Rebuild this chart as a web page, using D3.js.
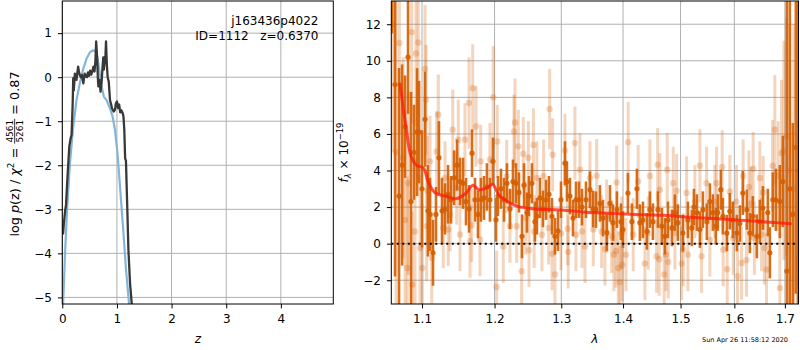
<!DOCTYPE html>
<html>
<head>
<meta charset="utf-8">
<script src="https://cdn.jsdelivr.net/npm/d3@7"></script>
<style>
  html, body { margin: 0; padding: 0; background: #fff; }
  svg text { font-family: "DejaVu Sans", sans-serif; white-space: pre; }
</style>
</head>
<body>
<svg id="chart" width="800" height="350"></svg>
<script>
// ---------------- DATA ----------------
// Left panel: log p(z) (dark) and prior (blue)
const pzZ = [0, 0.015, 0.03, 0.05, 0.068, 0.092, 0.11, 0.128, 0.15, 0.17, 0.18, 0.19, 0.2, 0.21, 0.23, 0.245, 0.26, 0.275, 0.29, 0.305, 0.32, 0.34, 0.36, 0.385, 0.41, 0.43, 0.45, 0.47, 0.49, 0.51, 0.53, 0.55, 0.57, 0.59, 0.605, 0.62, 0.63, 0.64, 0.65, 0.66, 0.68, 0.7, 0.72, 0.735, 0.75, 0.76, 0.775, 0.79, 0.8, 0.815, 0.83, 0.85, 0.873, 0.89, 0.91, 0.94, 0.965, 0.98, 1.0, 1.02, 1.04, 1.06, 1.08, 1.106, 1.12, 1.135, 1.15, 1.165, 1.19, 1.21, 1.24, 1.27, 1.29];
const pzLog = [-3.35, -3.55, -3.3, -3.05, -2.9, -2.33, -1.95, -1.58, -1.4, -1.31, -0.95, -0.6, -0.02, -0.3, 0.08, -0.05, -0.06, 0.1, 0.24, 0.12, 0.05, 0.0, 0.05, -0.14, 0.08, 0.02, 0.0, 0.11, 0.03, 0.15, 0.06, 0.13, 0.24, 0.13, 0.35, 0.81, 0.6, 0.39, 0.0, -0.21, -0.06, -0.33, -0.1, 0.2, 0.45, 0.17, 0.35, 0.5, 0.81, 0.3, 0.0, -0.1, -0.52, -0.6, -0.71, -0.78, -0.74, -0.6, -0.55, -0.7, -0.62, -0.8, -0.75, -0.82, -0.9, -1.2, -1.84, -1.9, -3.0, -3.92, -4.68, -5.13, -5.5];
const priorZ = [0.0, 0.02, 0.05, 0.09, 0.14, 0.2, 0.26, 0.32, 0.385, 0.447, 0.51, 0.57, 0.62, 0.66, 0.69, 0.72, 0.76, 0.81, 0.87, 0.92, 0.965, 1.01, 1.057, 1.12, 1.167, 1.216, 1.24];
const priorLog = [-5.5, -4.99, -4.0, -2.94, -1.96, -1.12, -0.52, -0.14, 0.2, 0.43, 0.57, 0.61, 0.57, 0.32, 0.05, -0.21, -0.44, -0.52, -0.7, -0.89, -1.2, -1.73, -2.49, -3.55, -4.38, -5.06, -5.5];

// Right panel: spectrum (dark and light points with errors) and model
const darkWave = [1.0612, 1.0650, 1.0701, 1.0740, 1.0778, 1.0817, 1.0856, 1.0895, 1.0935, 1.0961, 1.1000, 1.1040, 1.1079, 1.1106, 1.1146, 1.1186, 1.1226, 1.1267, 1.1308, 1.1349, 1.1390, 1.1431, 1.1472, 1.1513, 1.1555, 1.1596, 1.1638, 1.1680, 1.1722, 1.1764, 1.1806, 1.1849, 1.1891, 1.1934, 1.1977, 1.2021, 1.2049, 1.2093, 1.2137, 1.2180, 1.2224, 1.2268, 1.2312, 1.2357, 1.2402, 1.2432, 1.2476, 1.2506, 1.2551, 1.2596, 1.2626, 1.2672, 1.2718, 1.2764, 1.2810, 1.2856, 1.2902, 1.2949, 1.2996, 1.3058, 1.3089, 1.3136, 1.3184, 1.3231, 1.3279, 1.3327, 1.3391, 1.3455, 1.3504, 1.3552, 1.3617, 1.3667, 1.3732, 1.3782, 1.3832, 1.3898, 1.3965, 1.3998, 1.4082, 1.4150, 1.4235, 1.4286, 1.4338, 1.4407, 1.4459, 1.4511, 1.4598, 1.4668, 1.4721, 1.4775, 1.4846, 1.4899, 1.4952, 1.5042, 1.5133, 1.5205, 1.5242, 1.5297, 1.5352, 1.5407, 1.5481, 1.5537, 1.5593, 1.5649, 1.5686, 1.5743, 1.5781, 1.5857, 1.5914, 1.5971, 1.6048, 1.6106, 1.6164, 1.6242, 1.6300, 1.6359, 1.6438, 1.6497, 1.6557, 1.6656, 1.6696, 1.6756, 1.6816, 1.6897, 1.6958, 1.7040, 1.7101, 1.7163, 1.7225, 1.7266];
const darkFlux = [17, 8.7, 2.6, 4.3, 6.4, 10.2, 2.3, 5.0, 6.1, 6.1, 3.0, 6.8, 1.8, 1.6, -0.5, 1.6, 4.7, 1.8, 1.9, 2.7, 2.4, 3.6, 4.3, 3.4, 3.3, 2.3, 1.9, 4.95, 2.4, 1.6, 2.4, 2.5, 3.1, 2.4, 4.5, 1.3, 2.6, 3.0, 2.4, 3.3, 1.9, 3.4, 3.3, 2.8, 0.4, 3.2, 1.7, 2.6, 3.3, 1.2, 1.5, 2.5, 1.9, 2.4, 2.7, 1.5, 0.4, 0.7, 2.4, 4.4, 3.4, 2.6, 1.4, 2.4, 2.4, 2.0, 2.4, 2.95, 1.9, 1.86, 2.2, 1.4, 0.6, 2.2, 1.15, 1.86, 1.2, 0.77, 2.77, 1.2, 3.0, 1.15, 1.3, 0.67, 1.86, 1.2, 1.86, 0.95, 0.4, 1.3, 0.86, 1.7, 1.15, 0.58, 1.3, 0.86, 2.0, 1.7, 0.77, 1.86, 1.2, 2.3, 1.7, 0.95, 1.7, 2.95, 1.5, 0.58, 1.77, 1.3, 0.58, 1.1, 2.77, 1.86, 0.58, 1.5, 0.4, 1.2, 1.95, 1.7, -0.5, 2.4, 2.4, 2.3, 3.4, -1.5, 3.0, 1.6, 5.26, 4.0];
const darkErr = [5.5, 10.5, 7, 5.5, 2.8, 3.1, 6, 2.6, 3.5, 2.8, 3.2, 2.6, 2.5, 2.0, 1.8, 1.5, 2.0, 1.8, 1.4, 1.6, 1.3, 1.5, 1.4, 1.3, 1.4, 1.3, 1.3, 1.3, 1.2, 1.3, 1.2, 1.2, 1.3, 1.2, 1.3, 1.2, 1.1, 1.1, 1.2, 1.1, 1.1, 1.2, 1.1, 1.1, 1.2, 1.2, 1.1, 1.1, 1.1, 1.1, 1.0, 1.1, 1.0, 1.1, 1.0, 1.0, 1.0, 1.1, 1.0, 1.2, 1.1, 1.0, 1.0, 1.0, 1.0, 1.0, 1.0, 1.0, 1.0, 1.0, 1.0, 1.0, 1.0, 1.0, 1.0, 1.0, 1.0, 1.0, 1.1, 1.0, 1.1, 1.0, 1.0, 1.0, 1.0, 1.0, 1.0, 1.0, 1.0, 1.0, 1.0, 1.0, 1.0, 1.0, 1.0, 1.0, 1.0, 1.0, 1.0, 1.0, 1.0, 1.0, 1.0, 1.0, 1.0, 1.1, 1.0, 1.0, 1.0, 1.0, 1.0, 1.0, 1.2, 1.1, 1.1, 1.1, 1.2, 1.2, 1.2, 1.3, 1.4, 1.5, 1.7, 2.0, 2.5, 16, 12, 5, 8, 14];

const lightWave = [1.0624, 1.0663, 1.0705, 1.0753, 1.0778, 1.0808, 1.0821, 1.0865, 1.0873, 1.0908, 1.0921, 1.0951, 1.0974, 1.1004, 1.1040, 1.1053, 1.1062, 1.1072, 1.1106, 1.1129, 1.1195, 1.1217, 1.1284, 1.1308, 1.1352, 1.1376, 1.1413, 1.1467, 1.1489, 1.1513, 1.1582, 1.1638, 1.1652, 1.1676, 1.1690, 1.1736, 1.1792, 1.1802, 1.1934, 1.1982, 1.2030, 1.2039, 1.2126, 1.2176, 1.2224, 1.2283, 1.2298, 1.2323, 1.2347, 1.2397, 1.2421, 1.2457, 1.2497, 1.2507, 1.2573, 1.2584, 1.2625, 1.2702, 1.2727, 1.2804, 1.2820, 1.2857, 1.2866, 1.2902, 1.2996, 1.3058, 1.3100, 1.3109, 1.3215, 1.3231, 1.3295, 1.3327, 1.3375, 1.3455, 1.3509, 1.3564, 1.3645, 1.3699, 1.3727, 1.3810, 1.3848, 1.3882, 1.3893, 1.3920, 1.3948, 1.3976, 1.3986, 1.4049, 1.4087, 1.4172, 1.4257, 1.4372, 1.4430, 1.4459, 1.4575, 1.4593, 1.4621, 1.4633, 1.4708, 1.4739, 1.4762, 1.4780, 1.4869, 1.4899, 1.4929, 1.5019, 1.5048, 1.5109, 1.5133, 1.5260, 1.5352, 1.5383, 1.5476, 1.5537, 1.5630, 1.5662, 1.5768, 1.5787, 1.5863, 1.5914, 1.5977, 1.6042, 1.6061, 1.6139, 1.6170, 1.6236, 1.6281, 1.6320, 1.6365, 1.6389, 1.6497, 1.6531, 1.6563, 1.6587, 1.6630, 1.6750, 1.6797, 1.6864, 1.6897, 1.6932, 1.6979, 1.7034, 1.7101, 1.7184];
const lightFlux = [12, 5, 10.97, 4.7, 1.3, -1.33, 3.3, 11.57, -2.24, 0.67, 10.4, 11.0, -0.24, -1.33, 9.55, 7.87, 0.95, 2.9, 4.5, -0.78, 5.04, 7.05, 0.86, 3.59, 0.77, 1.58, 6.23, 3.04, 5.68, 0.5, 5.68, 7.69, 0.13, 1.0, 8.5, 6.41, 0.22, 4.5, 4.6, 8.0, -2.37, 5.59, -0.15, 3.68, 0.95, 6.14, 6.63, 0.95, 5.32, -1.51, 4.92, 1.4, 4.7, -0.36, 5.4, 0.67, 3.6, 0.49, 3.7, 0.86, 7.36, -0.55, 4.86, -1.69, 0.55, 5.1, 0.82, -0.45, 5.5, 0.49, 4.04, 0.67, -0.15, 3.6, 0.77, 3.72, 0.67, -0.29, 1.5, 0.4, -0.6, -0.4, 3.35, -1.33, -2.11, 0.58, -1.15, -0.6, 5.55, 0.49, 3.4, -1.09, 0.58, 3.7, -0.69, 4.32, -0.85, 2.95, -1.69, -0.6, 4.04, -1.0, 3.3, 0.58, 2.9, -1.09, -0.33, 2.77, -0.6, 2.3, 4.26, -0.69, 3.3, 0.2, 2.3, 3.3, 4.2, -0.33, -1.4, 2.85, 0.3, 2.3, -1.78, -1.06, 3.7, -0.9, 3.1, 2.2, 4.1, 0.3, 3.59, 0.5, 2.8, -0.24, -1.42, 4.26, 6.23, 3.7, -2.42, 4.95, 5.1, 5.86, 4.0, 3.0];
const lightErr = [7, 9, 5, 5.5, 6, 5, 5, 5, 4, 4, 4, 4, 4, 3.5, 3.5, 3, 3, 3, 2.5, 2.5, 2.2, 2.2, 2.2, 2, 2, 2, 2.2, 2, 2.2, 2, 2, 2.5, 2, 2, 2.4, 2.2, 2, 2, 2, 2.8, 2, 2, 2, 2, 2, 2, 2.4, 2, 2, 2, 2, 2, 2, 2, 2, 2, 2, 2, 2, 2, 2.2, 2, 2, 2, 2, 2, 2, 2, 2, 2, 2, 2, 2, 2, 2, 2, 2, 2, 2, 2, 2, 2, 2, 2, 2, 2, 2, 2, 2.2, 2, 2, 2, 2, 2, 2, 2, 2, 2, 2, 2, 2, 2, 2, 2, 2, 2, 2, 2, 2, 2, 2, 2, 2, 2, 2, 2, 2, 2, 2, 2, 2, 2, 2, 2, 2, 2, 2, 2, 2, 2, 2, 2, 2, 2, 2, 2.5, 3, 3, 3, 4, 6, 6.5, 8, 9];

const modelWave = [1.0714, 1.079, 1.0857, 1.093, 1.102, 1.108, 1.117, 1.133, 1.146, 1.160, 1.169, 1.178, 1.191, 1.197, 1.206, 1.215, 1.234, 1.26, 1.30, 1.34, 1.38, 1.42, 1.47, 1.51, 1.56, 1.60, 1.645, 1.68, 1.7115];
const modelFlux = [8.73, 6.4, 4.77, 4.28, 4.13, 3.40, 2.80, 2.58, 2.46, 2.77, 3.19, 2.95, 3.1, 3.25, 2.68, 2.40, 2.04, 1.90, 1.84, 1.72, 1.66, 1.6, 1.55, 1.46, 1.38, 1.3, 1.22, 1.15, 1.09];

const leftXTicks = [0, 1, 2, 3, 4];
const leftYTicks = [-5, -4, -3, -2, -1, 0, 1];
const rightXTicks = [1.1, 1.2, 1.3, 1.4, 1.5, 1.6, 1.7];
const rightYTicks = [-2, 0, 2, 4, 6, 8, 10, 12];

const titleLines = ["j163436p4022", "ID=1112   z=0.6370"];
const timestamp = "Sun Apr 26 11:58:12 2020";

// ---------------- DRAW ----------------
const svg = d3.select("#chart");
const FS = 12;
const gridColor = "#b0b0b0";
const orange = "#d55e00";
const fmt = d => String(d).replace("-", "\u2212");

const L = {x0: 62.3, x1: 333.3, y0: 1, y1: 304};
const R = {x0: 391.3, x1: 798.5, y0: 1, y1: 304};

const lx = d3.scaleLinear().domain([0, 4.96]).range([L.x0, L.x1]);
const ly = d3.scaleLinear().domain([-5.15, 1.73]).range([L.y1, L.y0]);
const rx = d3.scaleLog().domain([1.0602, 1.728]).range([R.x0, R.x1]);
const ry = d3.scaleLinear().domain([-3.3, 13.27]).range([R.y1, R.y0]);

const defs = svg.append("defs");
defs.append("clipPath").attr("id", "clipL").append("rect")
  .attr("x", L.x0).attr("y", L.y0).attr("width", L.x1 - L.x0).attr("height", L.y1 - L.y0);
defs.append("clipPath").attr("id", "clipR").append("rect")
  .attr("x", R.x0).attr("y", R.y0).attr("width", R.x1 - R.x0).attr("height", R.y1 - R.y0);

function grid(P, xs, ys, xt, yt) {
  const g = svg.append("g");
  g.selectAll(".gx").data(xt).join("line")
    .attr("x1", d => xs(d)).attr("x2", d => xs(d)).attr("y1", P.y0).attr("y2", P.y1)
    .attr("stroke", gridColor).attr("stroke-width", 1);
  g.selectAll(".gy").data(yt).join("line")
    .attr("y1", d => ys(d)).attr("y2", d => ys(d)).attr("x1", P.x0).attr("x2", P.x1)
    .attr("stroke", gridColor).attr("stroke-width", 1);
}
function axes(P, xs, ys, xt, yt, xfmt) {
  const ax = svg.append("g").attr("transform", `translate(0,${P.y1})`)
    .call(d3.axisBottom(xs).tickValues(xt).tickFormat(xfmt).tickSize(4.4).tickPadding(6.2));
  const ay = svg.append("g").attr("transform", `translate(${P.x0},0)`)
    .call(d3.axisLeft(ys).tickValues(yt).tickFormat(fmt).tickSize(4.4).tickPadding(6));
  [ax, ay].forEach(a => {
    a.select(".domain").remove();
    a.selectAll("text").attr("font-size", FS).attr("font-family", "DejaVu Sans").attr("fill", "#000");
    a.selectAll("line").attr("stroke", "#000").attr("stroke-width", 1);
  });
  svg.append("rect").attr("x", P.x0).attr("y", P.y0).attr("width", P.x1 - P.x0).attr("height", P.y1 - P.y0)
    .attr("fill", "none").attr("stroke", "#000").attr("stroke-width", 1);
}

// ---- Left panel ----
grid(L, lx, ly, leftXTicks, leftYTicks);
const gl = svg.append("g").attr("clip-path", "url(#clipL)");
const lineL = d3.line().x(d => lx(d[0])).y(d => ly(d[1]));
gl.append("path").datum(d3.zip(priorZ, priorLog)).attr("d", lineL)
  .attr("fill", "none").attr("stroke", "#84b4d8").attr("stroke-width", 2.2).attr("stroke-linejoin", "round");
gl.append("path").datum(d3.zip(pzZ, pzLog)).attr("d", lineL)
  .attr("fill", "none").attr("stroke", "#383838").attr("stroke-width", 2.3).attr("stroke-linejoin", "round");
axes(L, lx, ly, leftXTicks, leftYTicks, fmt);

svg.selectAll(".ttl").data(titleLines).join("text")
  .attr("x", 318.5).attr("y", (d, i) => 25 + i * 14.5).attr("text-anchor", "end")
  .attr("font-size", FS).attr("fill", "#000").text(d => d);

// ---- Right panel ----
grid(R, rx, ry, rightXTicks, rightYTicks);
const gr = svg.append("g").attr("clip-path", "url(#clipR)");
function errSeries(ws, fs, es, opts) {
  const data = d3.zip(ws, fs, es);
  const g = gr.append("g");
  g.selectAll("line").data(data).join("line")
    .attr("x1", d => rx(d[0])).attr("x2", d => rx(d[0]))
    .attr("y1", d => ry(d[1] - d[2])).attr("y2", d => ry(d[1] + d[2]))
    .attr("stroke", orange).attr("stroke-width", opts.bw).attr("opacity", opts.op);
  g.selectAll("circle").data(data).join("circle")
    .attr("cx", d => rx(d[0])).attr("cy", d => ry(d[1])).attr("r", opts.r)
    .attr("fill", orange).attr("opacity", opts.op);
}
errSeries(lightWave, lightFlux, lightErr, {bw: 3, r: 3.2, op: 0.26});
errSeries(darkWave, darkFlux, darkErr, {bw: 2.6, r: 2.6, op: 0.9});

gr.append("path").datum(d3.zip(modelWave, modelFlux))
  .attr("d", d3.line().x(d => rx(d[0])).y(d => ry(d[1])).curve(d3.curveCatmullRom))
  .attr("fill", "none").attr("stroke", "#ff1a0a").attr("stroke-width", 3).attr("opacity", 0.75)
  .attr("stroke-linejoin", "round").attr("stroke-linecap", "round");
gr.append("line").attr("x1", R.x0).attr("x2", R.x1).attr("y1", ry(0)).attr("y2", ry(0))
  .attr("stroke", "#000").attr("stroke-width", 2).attr("stroke-dasharray", "2,3.5");

axes(R, rx, ry, rightXTicks, rightYTicks, d => d.toFixed(1));

// ---- Axis labels ----
svg.append("text").attr("x", (L.x0 + L.x1) / 2).attr("y", 343).attr("text-anchor", "middle")
  .attr("font-size", FS).attr("font-style", "italic").text("z");
svg.append("text").attr("x", (R.x0 + R.x1) / 2).attr("y", 343).attr("text-anchor", "middle")
  .attr("font-size", FS).attr("font-style", "italic").text("λ");
svg.append("text").attr("x", 788).attr("y", 342).attr("text-anchor", "end")
  .attr("font-size", 6.5).text(timestamp);

function mathLabel(bx, cy, fsz, pieces) {
  const g = svg.append("g").attr("transform", `translate(${bx},${cy}) rotate(-90)`);
  const inner = g.append("g");
  let cx = 0;
  pieces.forEach(p => {
    if (p.frac) {
      const fs = fsz * 0.7;
      const axisY = -fsz * 0.3;
      const n = inner.append("text").attr("font-size", fs).attr("y", axisY - 1.6).text(p.frac[0]);
      const d = inner.append("text").attr("font-size", fs).attr("y", axisY + 1.6 + fs * 0.73).text(p.frac[1]);
      const w = Math.max(n.node().getComputedTextLength(), d.node().getComputedTextLength());
      n.attr("x", cx + 1 + (w - n.node().getComputedTextLength()) / 2);
      d.attr("x", cx + 1 + (w - d.node().getComputedTextLength()) / 2);
      inner.append("line").attr("x1", cx).attr("x2", cx + w + 2).attr("y1", axisY).attr("y2", axisY)
        .attr("stroke", "#000").attr("stroke-width", 0.8);
      cx += w + 2;
    } else {
      const t = inner.append("text").attr("x", cx).attr("y", p.dy || 0)
        .attr("font-size", fsz * (p.s || 1)).attr("font-style", p.it ? "italic" : "normal").text(p.t);
      cx += t.node().getComputedTextLength();
    }
  });
  inner.attr("transform", `translate(${-cx / 2},0)`);
}
mathLabel(18.5, 154, 12.8, [
  {t: "log "}, {t: "p", it: true}, {t: "(z) / "}, {t: "χ", it: true},
  {t: "2", s: 0.7, dy: -5}, {t: " = "}, {frac: ["4561", "5261"]}, {t: " = 0.87"}
]);
mathLabel(348, 152.5, 12, [
  {t: "f", it: true}, {t: "λ", it: true, s: 0.7, dy: 2.5}, {t: " × 10"}, {t: "−19", s: 0.7, dy: -5}
]);
</script>
</body>
</html>
